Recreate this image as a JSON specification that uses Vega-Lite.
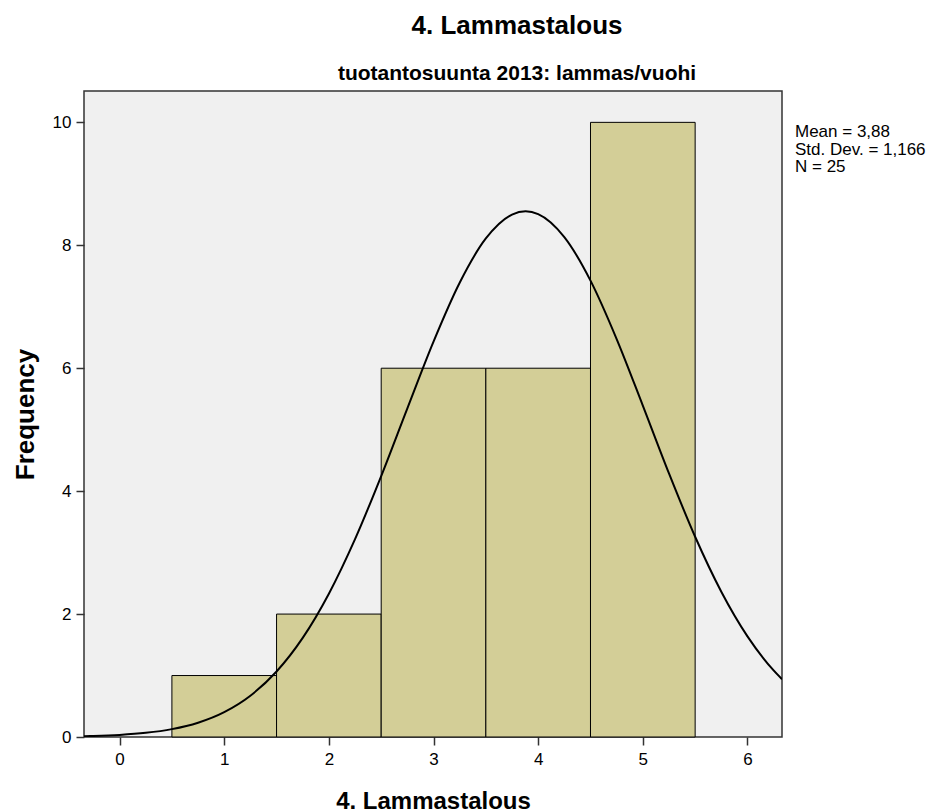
{
  "$schema": "https://vega.github.io/schema/vega-lite/v6.json",
  "width": 698,
  "height": 646,
  "autosize": {"type": "none"},
  "padding": {"left": 84, "top": 91, "right": 155, "bottom": 75},
  "background": "white",
  "title": {
    "text": "4. Lammastalous",
    "subtitle": "tuotantosuunta 2013: lammas/vuohi",
    "anchor": "middle",
    "dx": 84,
    "offset": 7,
    "fontSize": 26,
    "fontWeight": "bold",
    "color": "#000000",
    "subtitleFontSize": 21,
    "subtitleFontWeight": "bold",
    "subtitleColor": "#000000",
    "subtitlePadding": 24,
    "font": "Liberation Sans",
    "subtitleFont": "Liberation Sans"
  },
  "config": {
    "view": {"fill": "#F0F0F0", "stroke": "#333333", "strokeWidth": 1.5},
    "font": "Liberation Sans",
    "axis": {
      "grid": false,
      "domain": false,
      "tickColor": "#333333",
      "tickWidth": 1.5,
      "tickSize": 8,
      "labelFont": "Liberation Sans",
      "labelFontSize": 17,
      "labelColor": "#000000",
      "titleFont": "Liberation Sans",
      "titleFontWeight": "bold",
      "titleColor": "#000000",
      "format": "d"
    }
  },
  "datasets": {
    "bins": [
      {"bin_start": 0.5, "bin_end": 1.5, "count": 1},
      {"bin_start": 1.5, "bin_end": 2.5, "count": 2},
      {"bin_start": 2.5, "bin_end": 3.5, "count": 6},
      {"bin_start": 3.5, "bin_end": 4.5, "count": 6},
      {"bin_start": 4.5, "bin_end": 5.5, "count": 10}
    ],
    "curve": [
      {"x": -0.34, "y": 0.0123},
      {"x": -0.25, "y": 0.0162},
      {"x": 0, "y": 0.0337},
      {"x": 0.25, "y": 0.0673},
      {"x": 0.5, "y": 0.1281},
      {"x": 0.75, "y": 0.2329},
      {"x": 1, "y": 0.4049},
      {"x": 1.25, "y": 0.6721},
      {"x": 1.5, "y": 1.0653},
      {"x": 1.75, "y": 1.6122},
      {"x": 2, "y": 2.3312},
      {"x": 2.25, "y": 3.2193},
      {"x": 2.5, "y": 4.2457},
      {"x": 2.75, "y": 5.3479},
      {"x": 3, "y": 6.4334},
      {"x": 3.25, "y": 7.3913},
      {"x": 3.5, "y": 8.1107},
      {"x": 3.75, "y": 8.4999},
      {"x": 3.88, "y": 8.553},
      {"x": 4, "y": 8.5078},
      {"x": 4.25, "y": 8.1331},
      {"x": 4.5, "y": 7.4255},
      {"x": 4.75, "y": 6.475},
      {"x": 5, "y": 5.3923},
      {"x": 5.25, "y": 4.2888},
      {"x": 5.5, "y": 3.258},
      {"x": 5.75, "y": 2.3636},
      {"x": 6, "y": 1.6376},
      {"x": 6.25, "y": 1.0838},
      {"x": 6.33, "y": 0.9406}
    ],
    "stats": [
      {"label": "Mean = 3,88\nStd. Dev. = 1,166\nN = 25"}
    ]
  },
  "layer": [
    {
      "data": {"name": "bins"},
      "mark": {"type": "rect", "fill": "#D3CE97", "stroke": "#000000", "strokeWidth": 1},
      "encoding": {
        "x": {
          "field": "bin_start",
          "type": "quantitative",
          "scale": {"domain": [-0.34, 6.33], "nice": false, "zero": false},
          "axis": {"values": [0, 1, 2, 3, 4, 5, 6], "title": "4. Lammastalous", "titleFontSize": 24, "titlePadding": 22, "labelPadding": 6}
        },
        "x2": {"field": "bin_end"},
        "y": {
          "field": "count",
          "type": "quantitative",
          "scale": {"domain": [0, 10.51], "nice": false},
          "axis": {"values": [0, 2, 4, 6, 8, 10], "title": "Frequency", "titleFontSize": 26, "titlePadding": 14, "labelPadding": 5}
        },
        "y2": {"datum": 0}
      }
    },
    {
      "data": {"name": "curve"},
      "mark": {"type": "line", "color": "#000000", "strokeWidth": 2, "interpolate": "monotone", "clip": true},
      "encoding": {
        "x": {"field": "x", "type": "quantitative"},
        "y": {"field": "y", "type": "quantitative"}
      }
    },
    {
      "data": {"name": "stats"},
      "mark": {"type": "text", "align": "left", "baseline": "top", "fontSize": 17, "lineHeight": 17.5, "lineBreak": "\n", "font": "Liberation Sans", "color": "#000000", "dx": 13},
      "encoding": {
        "x": {"datum": 6.33},
        "y": {"datum": 9.97},
        "text": {"field": "label"}
      }
    }
  ]
}
